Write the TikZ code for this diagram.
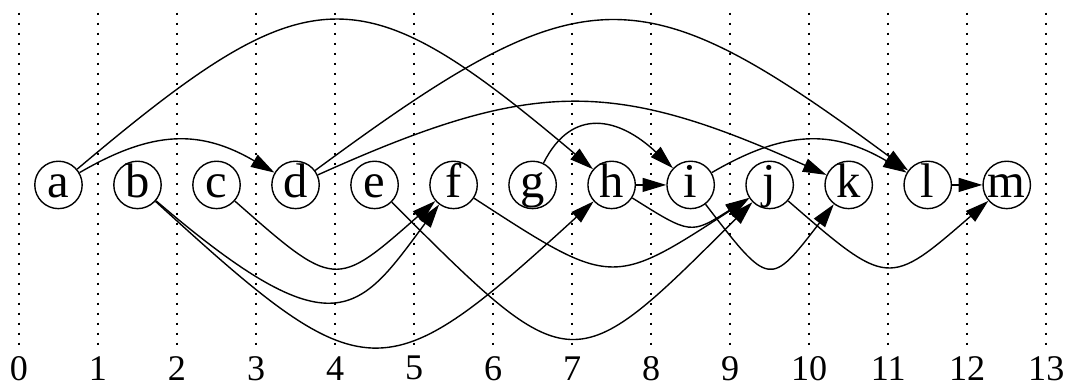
\documentclass[tikz,border=0pt]{standalone}
\usepackage{fontspec}
\setmainfont{Liberation Serif}
\usetikzlibrary{arrows.meta}

\begin{document}
\begin{tikzpicture}[
  vert/.style={draw, circle, line width=0.5pt, minimum size=0.6cm, inner sep=0pt,
               text height=0.33cm, text depth=0pt,
               font=\fontsize{17.5}{17.5}\selectfont},
  gridline/.style={line width=0.6pt, dash pattern=on 0.8pt off 2.8pt},
  ticklbl/.style={inner sep=0pt, font=\fontsize{13}{13}\selectfont},
  arr/.style={-{Triangle[length=8.5pt, width=5pt]}, line width=0.5pt}
]
\useasboundingbox (-0.24,-2.53) rectangle (13.25,2.34);

%% --- Time grid ---------------------------------------------
\foreach \t in {0,...,13} {
  \draw[gridline] (\t,2.18) -- (\t,-2.12);
  \node[ticklbl] (t\t) at (\t,-2.32) {\t};
}

%% --- Vertices ----------------------------------------------
\foreach \v [count=\k from 0] in {a,b,c,d,e,f,g,h,i,j,k,l,m}
  \node[vert] (\v) at (\k+0.5,0) {\v};

%% --- Arcs above the row ------------------------------------
\draw[arr] (a) .. controls (1.7,0.7) and (2.3,0.7) .. (d);
\draw[arr] (a) .. controls (3.7,2.7) and (4.3,2.7) .. (h);
\draw[arr] (d) .. controls (6.5,1.35) and (7.5,1.35) .. (k);
\draw[arr] (d) .. controls (7.16,2.7) and (7.84,2.7) .. (l);
\draw[arr] (g) .. controls (7.0,1.0) and (7.6,0.85) .. (i);
\draw[arr] (i) .. controls (9.7,0.7) and (10.3,0.7) .. (l);
\draw[arr] (h) -- (i);
\draw[arr] (l) -- (m);

%% --- Arcs below the row ------------------------------------
\draw[arr] (b) .. controls (4.0,-2.14) and (4.3,-1.62) .. (f);
\draw[arr] (b) .. controls (4.4,-2.65) and (4.6,-2.65) .. (h);
\draw[arr] (c) .. controls (4,-1.32) .. (f);
\draw[arr] (e) .. controls (7,-2.5) .. (j);
\draw[arr] (f) .. controls (7.5,-1.3) .. (j);
\draw[arr] (h) .. controls (8.5,-0.63) .. (j);
\draw[arr] (i) .. controls (9.5,-1.3) .. (k);
\draw[arr] (j) .. controls (11,-1.3) .. (m);

\end{tikzpicture}
\end{document}
